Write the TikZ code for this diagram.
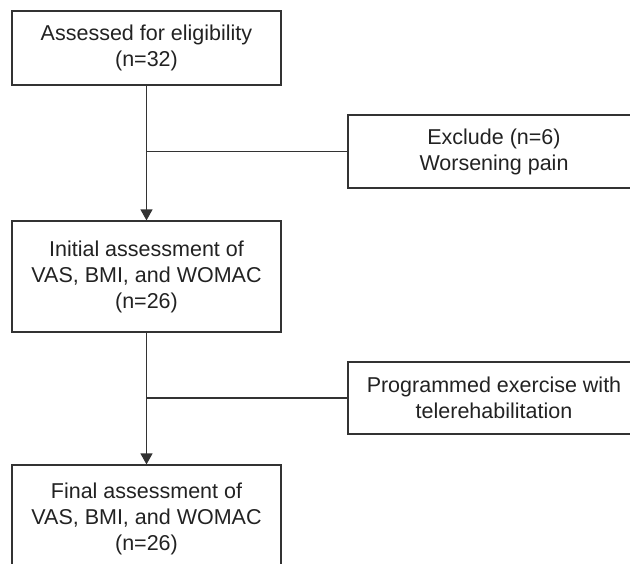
\documentclass[tikz,border=0pt]{standalone}
\usepackage{fontspec}
\setmainfont{Liberation Sans}
\usetikzlibrary{arrows.meta}
\definecolor{flowLine}{HTML}{333333}
\definecolor{flowText}{HTML}{222222}
\tikzset{
  flowfig/.style={
    x=1pt, y=-1pt,
    every node/.append style={font=\fontsize{21.5}{26}\selectfont, text=flowText},
    >={Triangle[length=11pt, width=12pt]},
  },
  stepbox/.style={
    draw=flowLine, line width=1.2pt, align=center, inner sep=0pt,
    minimum width=269pt,
  },
  % Seitenkaesten laufen rechts ueber den Bildrand hinaus.
  sidebox/.style={stepbox, minimum width=292pt},
  link/.style={draw=flowLine, line width=1.2pt},
}

\begin{document}
\begin{tikzpicture}[flowfig]
    \clip (0,0) rectangle (630,563);
    \node[stepbox, minimum height=74pt] (assess) at (146.5,48) {Assessed for eligibility\\(n=32)};
    \node[stepbox, minimum height=111pt] (initial) at (146.5,276.5) {Initial assessment of\\VAS, BMI, and WOMAC\\(n=26)};
    \node[stepbox, minimum height=108pt] (final) at (146.5,519) {Final assessment of\\VAS, BMI, and WOMAC\\(n=26)};
    \node[sidebox, minimum height=73pt] (exclude) at (494,151.5) {Exclude (n=6)\\Worsening pain};
    \node[sidebox, minimum height=72pt] (program) at (494,398) {Programmed exercise with\\telerehabilitation};
    \draw[link, ->] (assess.south) -- (initial.north);
    \draw[link] (exclude.west) -- (exclude.west -| assess.south);
    \draw[link, ->] (initial.south) -- (final.north);
    \draw[link] (program.west) -- (program.west -| initial.south);
  \end{tikzpicture}
\end{document}
